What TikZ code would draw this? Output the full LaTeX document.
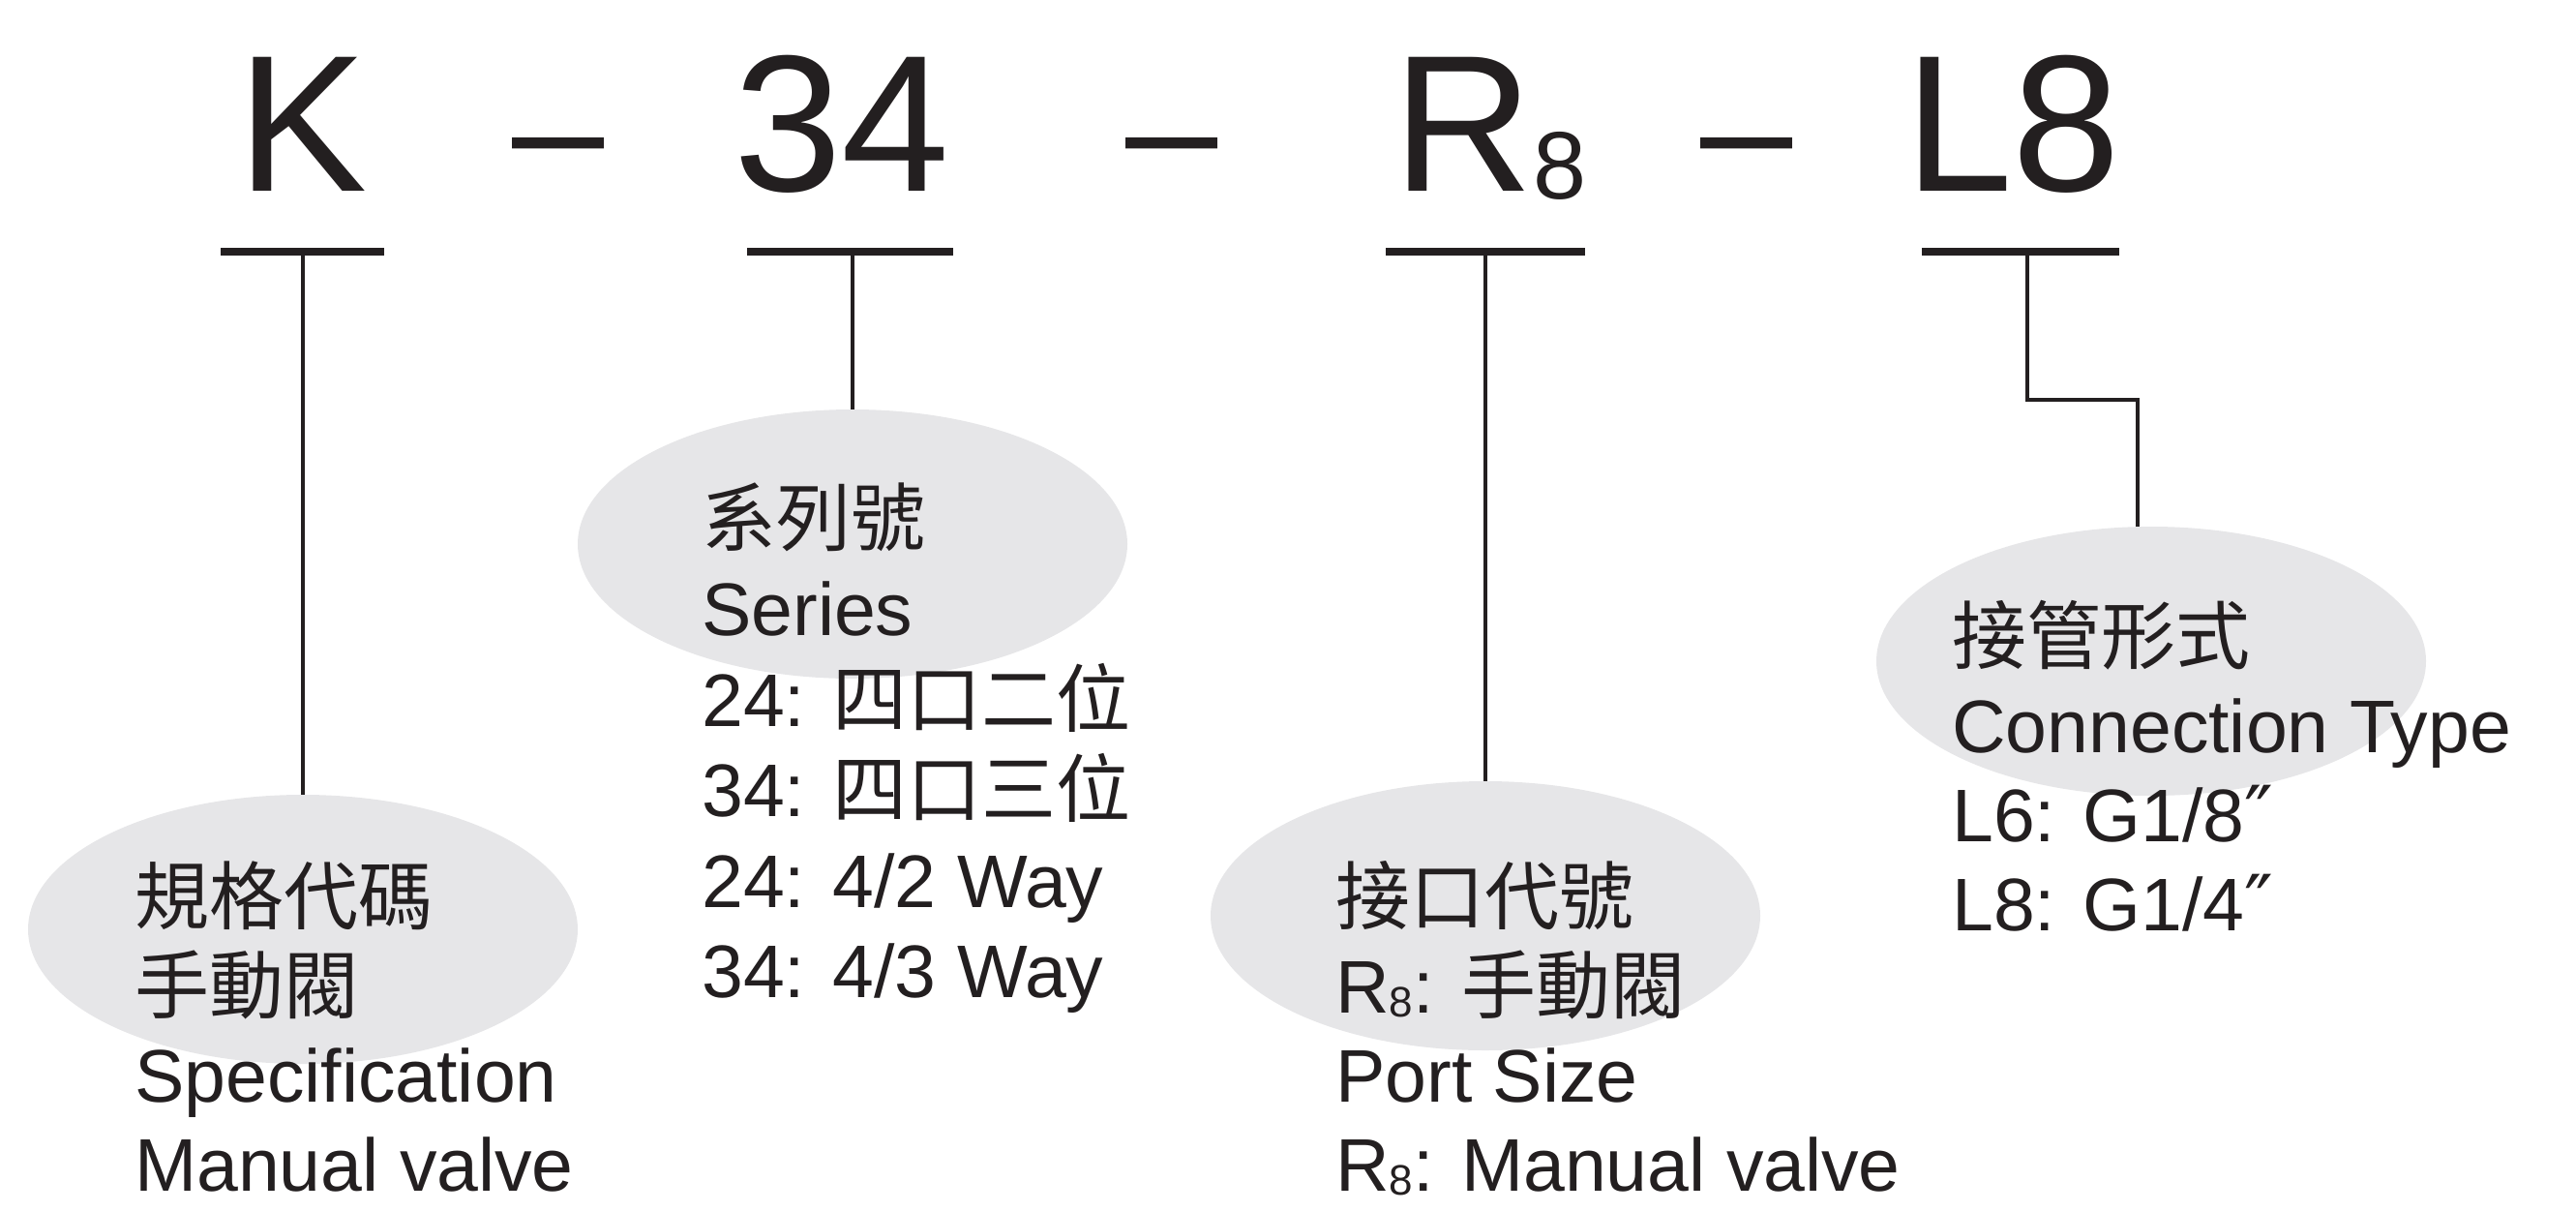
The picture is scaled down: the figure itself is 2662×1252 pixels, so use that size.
\documentclass[tikz,border=0pt]{standalone}
\usepackage{fontspec}
\usetikzlibrary{shapes.geometric}
\setmainfont{Liberation Sans}
\newfontfamily\cjk{Noto Sans CJK TC}
\newfontfamily\dvs{DejaVu Sans}
\definecolor{ink}{RGB}{35,31,32}
\definecolor{bubble}{RGB}{230,230,232}
\newcommand{\lns}[2][92pt]{\vtop{\baselineskip=#1\lineskiplimit=-200pt\lineskip=0pt #2}}
\newcommand{\subeight}{\raisebox{-4pt}{\fontsize{44}{44}\selectfont 8}}
\newcommand{\dprime}{{\dvs\fontsize{80}{80}\selectfont ″}}
\begin{document}
\begin{tikzpicture}[x=1pt,y=-1pt,
  big/.style={inner sep=0pt, anchor=base west, text=ink, font=\fontsize{201}{201}\selectfont},
  dashtxt/.style={inner sep=0pt, anchor=base, text=ink, font=\fontsize{171}{171}\selectfont},
  bar/.style={draw=ink, line width=8pt},
  lead/.style={draw=ink, line width=4.5pt},
  ell/.style={ellipse, fill=bubble, inner sep=0pt, minimum width=568pt, minimum height=278pt},
  lbl/.style={inner sep=0pt, anchor=base west, text=ink, font=\fontsize{77}{92}\selectfont}]
\useasboundingbox (0,0) rectangle (2662,1252);

% bubbles
\node[ell] (e1) at (313,960) {};
\node[ell] (e2) at (881,562) {};
\node[ell] (e3) at (1535,946) {};
\node[ell] (e4) at (2223,683) {};

% code letters
\node[big] (k) at (245,197) {K};
\node[dashtxt] (d1) at (577,192) {–};
\node[big] (n34) at (758,197) {34};
\node[dashtxt] (d2) at (1211,192) {–};
\node[big] (r8) at (1439,197) {R{\fontsize{99}{99}\selectfont\raisebox{-9pt}{8}}};
\node[dashtxt] (d3) at (1805,192) {–};
\node[big] (l8) at (1968,197) {L8};

% underlines
\coordinate (kb) at (313,260);
\coordinate (sb) at (881,260);
\coordinate (rb) at (1535,260);
\coordinate (lb) at (2095,260);
\draw[bar] (228,260) -- (397,260);
\draw[bar] (772,260) -- (985,260);
\draw[bar] (1432,260) -- (1638,260);
\draw[bar] (1986,260) -- (2190,260);

% leads
\draw[lead] (kb) -- (e1.north);
\draw[lead] (sb) -- (e2.north);
\draw[lead] (rb) -- (e3.north);
\draw[lead] (lb) -- (2095,413) -| ([xshift=-14pt]e4.north);

% labels
\node[lbl] (t1) at (139,954) {\lns{\hbox{\cjk 規格代碼}\hbox{\cjk 手動閥}\hbox{Specification}\hbox{Manual valve}}};
\node[lbl] (t2) at (725,563) {\lns[93.5pt]{\hbox{\cjk 系列號}\hbox{Series}\hbox{24: {\cjk 四口二位}}\hbox{34: {\cjk 四口三位}}\hbox{24: 4/2 Way}\hbox{34: 4/3 Way}}};
\node[lbl] (t3) at (1380,954) {\lns{\hbox{\cjk 接口代號}\hbox{R\subeight: {\cjk 手動閥}}\hbox{Port Size}\hbox{R\subeight: Manual valve}}};
\node[lbl] (t4) at (2017,685) {\lns{\hbox{\cjk 接管形式}\hbox{Connection Type}\hbox{L6: G1/8\dprime}\hbox{L8: G1/4\dprime}}};
\end{tikzpicture}
\end{document}
